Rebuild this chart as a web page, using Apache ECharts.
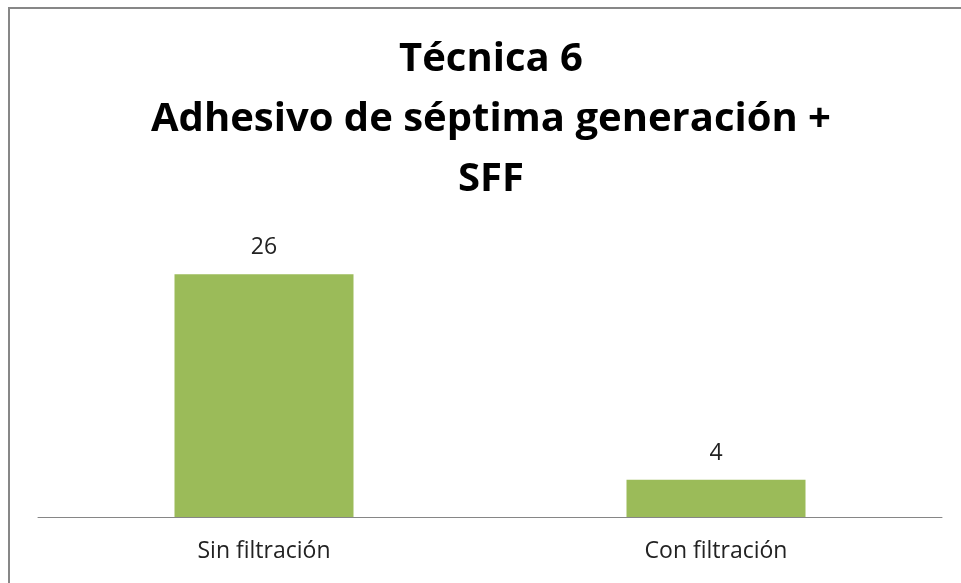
<!DOCTYPE html>
<html>
<head>
<meta charset="utf-8">
<script src="https://cdn.jsdelivr.net/npm/echarts@6/dist/echarts.min.js"></script>
<style>
  html, body { margin: 0; padding: 0; background: #fff; }
  #chart { width: 961px; height: 583px; }
</style>
</head>
<body>
<div id="chart"></div>
<script>
// datos
var categorias = ['Sin filtración', 'Con filtración'];
var valores = [26, 4];
var titulo = 'Técnica 6\nAdhesivo de séptima generación +\nSFF';

var chart = echarts.init(document.getElementById('chart'));
chart.setOption({
  animation: false,
  backgroundColor: '#ffffff',
  // marco del gráfico (solo se ven los bordes superior e izquierdo)
  graphic: [{
    type: 'rect',
    shape: { x: 9, y: 8, width: 1000, height: 1000 },
    style: { fill: 'none', stroke: '#878787', lineWidth: 2 },
    silent: true
  }],
  title: {
    text: titulo,
    left: 486,
    textAlign: 'center',
    top: 25,
    textStyle: {
      fontFamily: 'Open Sans',
      fontWeight: 'bold',
      fontSize: 40,
      lineHeight: 60,
      color: '#000000'
    }
  },
  grid: { left: 38, right: 19, top: 237, bottom: 66 },
  xAxis: {
    type: 'category',
    data: categorias,
    axisLine: { lineStyle: { color: '#868686', width: 1 } },
    axisTick: { show: false },
    axisLabel: {
      margin: 23,
      fontFamily: 'Open Sans',
      fontSize: 23,
      color: '#222222'
    }
  },
  yAxis: {
    type: 'value',
    min: 0,
    max: 30,
    show: false,
    splitLine: { show: false }
  },
  series: [{
    type: 'bar',
    data: valores,
    barWidth: 179,
    itemStyle: { color: '#9bbb59' },
    label: {
      show: true,
      position: 'top',
      distance: 15,
      fontFamily: 'Open Sans',
      fontSize: 23,
      color: '#222222'
    }
  }]
});
</script>
</body>
</html>
